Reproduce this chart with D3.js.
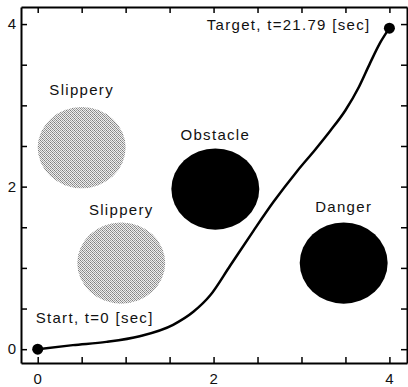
<!DOCTYPE html>
<html>
<head>
<meta charset="utf-8">
<script src="https://cdn.jsdelivr.net/npm/d3@7"></script>
<style>
  body { margin: 0; background: #fff; }
  text { font-family: "Liberation Sans", Arial, sans-serif; fill: #111; }
</style>
</head>
<body>
<svg id="chart" width="408" height="387"></svg>
<script>
// path of the vehicle
const pathX = [0, 0.40, 0.78, 1.16, 1.54, 1.77, 1.96, 2.19, 2.45, 2.68, 2.95, 3.16, 3.33, 3.50, 3.65, 3.78, 3.90, 4.0];
const pathY = [0, 0.05, 0.09, 0.16, 0.30, 0.46, 0.66, 1.03, 1.45, 1.81, 2.19, 2.46, 2.69, 2.94, 3.22, 3.52, 3.78, 3.95];

// regions on the map
const regionNames = ["Slippery", "Slippery", "Obstacle", "Danger"];
const regionX = [0.5, 0.95, 2.02, 3.48];
const regionY = [2.48, 1.06, 1.97, 1.06];
const regionR = [0.5, 0.5, 0.5, 0.5];
const regionKind = ["slip", "slip", "solid", "solid"];

const endLabels = ["Start, t=0 [sec]", "Target, t=21.79 [sec]"];
const tickLabels = [0, 2, 4];
const minorTicks = d3.range(0, 4.01, 0.5);

const svg = d3.select("#chart");
const x = d3.scaleLinear().domain([-0.19, 4.2]).range([21, 407]);
const y = d3.scaleLinear().domain([-0.17, 4.21]).range([363, 7]);

// dithered grey for the slippery patches (4x4 cell, uneven dots)
const defs = svg.append("defs");
const pat = defs.append("pattern")
  .attr("id", "dither")
  .attr("width", 4).attr("height", 4)
  .attr("patternUnits", "userSpaceOnUse");
pat.append("rect").attr("width", 4).attr("height", 4).attr("fill", "#eeeeee");
[[0, 0, "#808080"], [2, 0, "#9c9c9c"], [1, 1, "#8f8f8f"], [3, 1, "#ababab"],
 [0, 2, "#9d9d9d"], [2, 2, "#7a7a7a"], [1, 3, "#a8a8a8"], [3, 3, "#8b8b8b"]].forEach(([px, py, c]) => {
  pat.append("rect").attr("x", px).attr("y", py).attr("width", 1).attr("height", 1).attr("fill", c);
});

const rx = r => x(r) - x(0);
const ry = r => y(0) - y(r);

svg.selectAll("ellipse.region")
  .data(regionNames.map((n, i) => ({ name: n, cx: regionX[i], cy: regionY[i], r: regionR[i], kind: regionKind[i] })))
  .join("ellipse")
  .attr("class", "region")
  .attr("cx", d => x(d.cx))
  .attr("cy", d => y(d.cy))
  .attr("rx", d => rx(d.r))
  .attr("ry", d => ry(d.r))
  .attr("fill", d => d.kind === "slip" ? "url(#dither)" : "#000");

// labels above each region; gaps differ a little in the original
const lift = [12, 7, 8, 10];
regionNames.forEach((n, i) => {
  svg.append("text")
    .attr("x", x(regionX[i]))
    .attr("y", y(regionY[i] + regionR[i]) - lift[i])
    .attr("text-anchor", "middle")
    .style("font-size", "15px")
    .style("letter-spacing", "1.3px")
    .text(n);
});

// trajectory
const line = d3.line()
  .x((d, i) => x(pathX[i]))
  .y((d, i) => y(pathY[i]))
  .curve(d3.curveMonotoneX);

svg.append("path")
  .datum(pathX)
  .attr("d", line)
  .attr("fill", "none")
  .attr("stroke", "#000")
  .attr("stroke-width", 2.5);

const last = pathX.length - 1;
svg.selectAll("circle.end")
  .data([0, last])
  .join("circle")
  .attr("class", "end")
  .attr("cx", i => x(pathX[i]))
  .attr("cy", i => y(pathY[i]))
  .attr("r", 5.5)
  .attr("fill", "#000");

svg.append("text")
  .attr("x", x(pathX[0]) - 2)
  .attr("y", y(pathY[0]) - 26)
  .style("font-size", "15px")
  .style("letter-spacing", "1.3px")
  .text(endLabels[0]);

svg.append("text")
  .attr("x", x(pathX[last]) - 19)
  .attr("y", y(pathY[last]) + 2)
  .attr("text-anchor", "end")
  .style("font-size", "15px")
  .style("letter-spacing", "1.3px")
  .text(endLabels[1]);

// frame with inward ticks on all four sides
const frame = svg.append("g");
frame.append("g").attr("transform", `translate(0,${y.range()[0]})`)
  .call(d3.axisBottom(x).tickValues(minorTicks).tickSizeInner(-6).tickSizeOuter(0).tickFormat(""));
frame.append("g").attr("transform", `translate(0,${y.range()[1]})`)
  .call(d3.axisTop(x).tickValues(minorTicks).tickSizeInner(-6).tickSizeOuter(0).tickFormat(""));
frame.append("g").attr("transform", `translate(${x.range()[0]},0)`)
  .call(d3.axisLeft(y).tickValues(minorTicks).tickSizeInner(-6).tickSizeOuter(0).tickFormat(""));
frame.append("g").attr("transform", `translate(${x.range()[1]},0)`)
  .call(d3.axisRight(y).tickValues(minorTicks).tickSizeInner(-6).tickSizeOuter(0).tickFormat(""));
frame.selectAll("path.domain").attr("stroke", "#000").attr("stroke-width", 2);
frame.selectAll(".tick line").attr("stroke", "#000").attr("stroke-width", 1.5);

svg.selectAll("text.xlab")
  .data(tickLabels)
  .join("text")
  .attr("class", "xlab")
  .attr("x", d => x(d))
  .attr("y", 384)
  .attr("text-anchor", "middle")
  .style("font-size", "15px")
  .text(d => d);

svg.selectAll("text.ylab")
  .data(tickLabels)
  .join("text")
  .attr("class", "ylab")
  .attr("x", 16)
  .attr("y", d => y(d) + 5)
  .attr("text-anchor", "end")
  .style("font-size", "15px")
  .text(d => d);
</script>
</body>
</html>
